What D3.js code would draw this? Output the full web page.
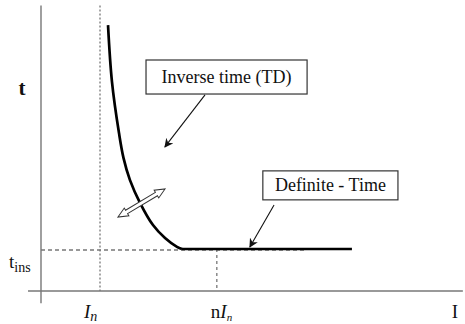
<!DOCTYPE html>
<html>
<head>
<meta charset="utf-8">
<script src="https://cdn.jsdelivr.net/npm/d3@7"></script>
<style>
  body { margin: 0; background: #fff; }
</style>
</head>
<body>
<div id="chart"></div>
<script>
// --------------------------------------
//  Data (x in multiples of In, y in multiples of t_ins)
// --------------------------------------

const inverseX = [1.136, 1.203, 1.322, 1.398, 1.508, 1.678, 1.898, 2.102, 2.305, 2.39];
const inverseY = [6.33, 4.98, 3.76, 3.17, 2.64, 2.10, 1.57, 1.26, 1.05, 1.0];
const definiteX = [2.39, 5.27];
const definiteY = [1.0, 1.0];

const currentIn = 1;
const currentNIn = 2.98;
const timeIns = 1;

const boxLabels = ["Inverse time (TD)", "Definite - Time"];
const boxX = [[1.78, 4.51], [3.76, 6.05]];
const boxY = [[5.5, 4.69], [2.86, 2.17]];
const arrowFrom = [[2.78, 4.67], [3.95, 2.05]];
const arrowTo = [[2.10, 3.43], [3.54, 1.05]];
const doubleArrow = [[1.305, 1.76], [2.102, 2.43]];

// --------------------------------------
//  Canvas
// --------------------------------------

const width = 465, height = 324;
const serif = "Liberation Serif, DejaVu Serif, serif";

const svg = d3.select("#chart")
  .append("svg")
    .attr("width", width)
    .attr("height", height)
    .style("font-family", serif);

const x = d3.scaleLinear().domain([0, 1]).range([41, 100]);
const y = d3.scaleLinear().domain([0, 1]).range([291, 249]);

const defs = svg.append("defs");
defs.append("marker")
    .attr("id", "head")
    .attr("viewBox", "0 0 10 10")
    .attr("refX", 9).attr("refY", 5)
    .attr("markerWidth", 9).attr("markerHeight", 9)
    .attr("markerUnits", "userSpaceOnUse")
    .attr("orient", "auto")
  .append("path")
    .attr("d", "M0,0 L10,5 L0,10 L3,5 Z")
    .attr("fill", "#111");

// --------------------------------------
//  Axes
// --------------------------------------

svg.append("line")
    .attr("x1", x(0)).attr("x2", x(0))
    .attr("y1", y(6.8)).attr("y2", y(-0.29))
    .attr("stroke", "#777").attr("stroke-width", 1.4);

svg.append("line")
    .attr("x1", x(-0.22)).attr("x2", x(7.15))
    .attr("y1", y(0)).attr("y2", y(0))
    .attr("stroke", "#777").attr("stroke-width", 1.4);

// --------------------------------------
//  Reference lines
// --------------------------------------

svg.append("line")
    .attr("x1", x(currentIn)).attr("x2", x(currentIn))
    .attr("y1", y(6.8)).attr("y2", y(0))
    .attr("stroke", "#777").attr("stroke-width", 1.3)
    .attr("stroke-dasharray", "2,2");

svg.append("line")
    .attr("x1", x(0)).attr("x2", x(4.5))
    .attr("y1", y(timeIns) + 1).attr("y2", y(timeIns) + 1)
    .attr("stroke", "#777").attr("stroke-width", 1.3)
    .attr("stroke-dasharray", "4,3");

svg.append("line")
    .attr("x1", x(currentNIn)).attr("x2", x(currentNIn))
    .attr("y1", y(timeIns)).attr("y2", y(0))
    .attr("stroke", "#777").attr("stroke-width", 1.3)
    .attr("stroke-dasharray", "3,3");

// --------------------------------------
//  Characteristic
// --------------------------------------

const line = d3.line()
  .curve(d3.curveCatmullRom.alpha(0.5))
  .x(d => x(d[0]))
  .y(d => y(d[1]));

svg.append("path")
    .datum(d3.zip(inverseX, inverseY))
    .attr("d", line)
    .attr("fill", "none")
    .attr("stroke", "#000")
    .attr("stroke-width", 2.7);

svg.append("path")
    .datum(d3.zip(definiteX, definiteY))
    .attr("d", line)
    .attr("fill", "none")
    .attr("stroke", "#000")
    .attr("stroke-width", 2.7);

// --------------------------------------
//  Annotations
// --------------------------------------

boxLabels.forEach((label, i) => {
  const x0 = x(boxX[i][0]), x1 = x(boxX[i][1]);
  const y0 = y(boxY[i][0]), y1 = y(boxY[i][1]);
  svg.append("rect")
      .attr("x", x0).attr("y", y0)
      .attr("width", x1 - x0).attr("height", y1 - y0)
      .attr("fill", "#fff")
      .attr("stroke", "#333").attr("stroke-width", 1.2);
  svg.append("text")
      .attr("x", (x0 + x1) / 2)
      .attr("y", (y0 + y1) / 2 + 6)
      .attr("text-anchor", "middle")
      .attr("font-size", 18)
      .attr("fill", "#111")
      .text(label);
  svg.append("line")
      .attr("x1", x(arrowFrom[i][0])).attr("y1", y(arrowFrom[i][1]))
      .attr("x2", x(arrowTo[i][0])).attr("y2", y(arrowTo[i][1]))
      .attr("stroke", "#111").attr("stroke-width", 1.1)
      .attr("marker-end", "url(#head)");
});

// hollow double arrow
{
  const ax = x(doubleArrow[0][0]), ay = y(doubleArrow[0][1]);
  const bx = x(doubleArrow[1][0]), by = y(doubleArrow[1][1]);
  const len = Math.hypot(bx - ax, by - ay);
  const ang = Math.atan2(by - ay, bx - ax) * 180 / Math.PI;
  const h = 10, sw = 2, hw = 4.5;
  const pts = [[0, 0], [h, -hw], [h, -sw], [len - h, -sw], [len - h, -hw], [len, 0],
               [len - h, hw], [len - h, sw], [h, sw], [h, hw]];
  svg.append("path")
      .attr("transform", `translate(${ax},${ay}) rotate(${ang})`)
      .attr("d", "M" + pts.join("L") + "Z")
      .attr("fill", "#fff")
      .attr("stroke", "#333").attr("stroke-width", 1);
}

// --------------------------------------
//  Labels
// --------------------------------------

svg.append("text")
    .attr("x", 22).attr("y", 95)
    .attr("text-anchor", "middle")
    .attr("font-size", 21).attr("font-weight", "bold")
    .attr("fill", "#111")
    .text("t");

const tins = svg.append("text")
    .attr("x", 9).attr("y", y(timeIns) + 19)
    .attr("font-size", 19)
    .attr("fill", "#111");
tins.append("tspan").text("t");
tins.append("tspan").attr("font-size", 14).attr("dy", 4).text("ins");

const inLabel = svg.append("text")
    .attr("x", x(currentIn) - 16).attr("y", y(0) + 27)
    .attr("font-size", 19)
    .attr("fill", "#111");
inLabel.append("tspan").attr("font-style", "italic").text("I");
inLabel.append("tspan").attr("font-style", "italic").attr("font-size", 14).attr("dy", 3).text("n");

const ninLabel = svg.append("text")
    .attr("x", x(currentNIn) - 6).attr("y", y(0) + 27)
    .attr("font-size", 19)
    .attr("fill", "#111");
ninLabel.append("tspan").text("n");
ninLabel.append("tspan").attr("font-style", "italic").text("I");
ninLabel.append("tspan").attr("font-style", "italic").attr("font-size", 11).attr("dy", 3).text("n");

svg.append("text")
    .attr("x", 455).attr("y", y(0) + 27)
    .attr("text-anchor", "middle")
    .attr("font-size", 19)
    .attr("fill", "#111")
    .text("I");
</script>
</body>
</html>
